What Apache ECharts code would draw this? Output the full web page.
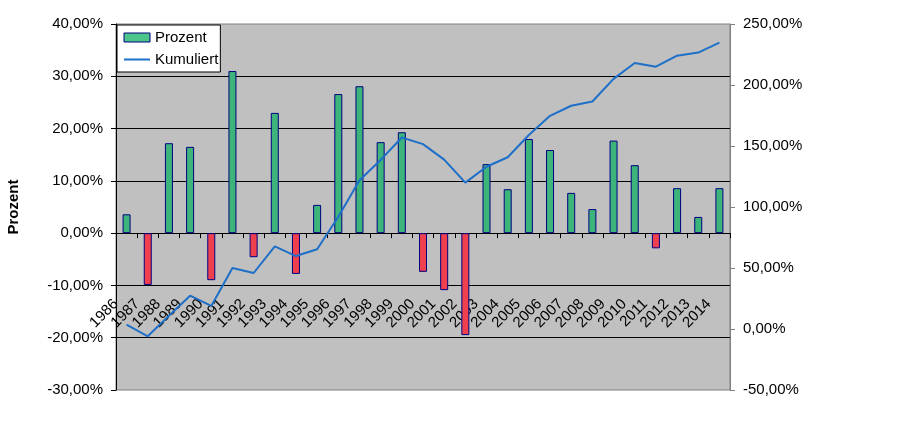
<!DOCTYPE html>
<html>
<head>
<meta charset="utf-8">
<script src="https://cdn.jsdelivr.net/npm/echarts@6/dist/echarts.min.js"></script>
<style>html,body{margin:0;padding:0;background:#fff;}#c{width:910px;height:441px;}</style>
</head>
<body>
<div id="c"></div>
<script>
const years = ['1986','1987','1988','1989','1990','1991','1992','1993','1994','1995','1996','1997','1998','1999','2000','2001','2002','2003','2004','2005','2006','2007','2008','2009','2010','2011','2012','2013','2014'];
const prozent = [3.6,-9.9,17.2,16.5,-9.0,31.0,-4.6,23.0,-7.8,5.4,26.6,28.1,17.4,19.3,-7.4,-10.9,-19.5,13.2,8.4,18.0,15.9,7.7,4.6,17.7,13.0,-2.9,8.6,3.1,8.6];
const kumuliert = [3.5,-6.0,10.8,27.3,18.9,50.0,45.9,67.7,59.8,65.4,92.0,122.0,138.6,157.0,151.5,138.8,120.0,133.0,140.8,159.0,174.7,183.0,186.5,205.0,218.0,215.0,224.0,226.6,234.8];
const leftTicks = {min: -30, max: 40, interval: 10};
const rightTicks = {min: -50, max: 250, interval: 50};

const FONT = "'Liberation Sans', Arial, sans-serif";
const GREEN = '#3DB47A', RED = '#F0404E', NAVY = '#000080', BLUE = '#1E6FC8';
const fmt = v => v.toFixed(2).replace('.', ',') + '%';

const chart = echarts.init(document.getElementById('c'), null, {renderer: 'canvas'});
chart.setOption({
  animation: false,
  backgroundColor: '#fff',
  textStyle: {fontFamily: FONT},
  grid: {left: 116, right: 180, top: 24, bottom: 51, show: true, backgroundColor: '#C0C0C0', borderColor: '#808080', borderWidth: 1, containLabel: false, outerBoundsMode: 'none'},
  legend: {
    orient: 'vertical', left: 117, top: 25,
    backgroundColor: '#fff', borderColor: '#000', borderWidth: 1,
    padding: [5, 2, 5, 6], itemGap: 7, itemWidth: 26, itemHeight: 9,
    textStyle: {fontFamily: FONT, fontSize: 15, color: '#000'},
    data: [
      {name: 'Prozent', icon: 'rect', itemStyle: {color: '#4CC48A', borderColor: NAVY, borderWidth: 1}},
      {name: 'Kumuliert', itemStyle: {opacity: 0}, lineStyle: {color: BLUE, width: 2, opacity: 1}}
    ]
  },
  xAxis: {
    type: 'category', data: years,
    axisLine: {onZero: true, lineStyle: {color: '#000', width: 1}},
    axisTick: {show: true, length: 5, lineStyle: {color: '#000'}},
    axisLabel: {rotate: 45, interval: 0, margin: -99, padding: [0, 15, 0, 0], fontFamily: FONT, fontSize: 15, color: '#000'},
    splitLine: {show: false}
  },
  yAxis: [
    {
      type: 'value', min: leftTicks.min, max: leftTicks.max, interval: leftTicks.interval,
      name: 'Prozent', nameLocation: 'middle', nameGap: 95, nameRotate: 90,
      nameTextStyle: {fontFamily: FONT, fontSize: 15, fontWeight: 'bold', color: '#000'},
      axisLine: {show: true, lineStyle: {color: '#000'}},
      axisTick: {show: true, length: 5, lineStyle: {color: '#000'}},
      axisLabel: {formatter: fmt, margin: 13, fontFamily: FONT, fontSize: 15, color: '#000'},
      splitLine: {show: true, showMinLine: false, showMaxLine: false, lineStyle: {color: '#000', width: 1}}
    },
    {
      type: 'value', min: rightTicks.min, max: rightTicks.max, interval: rightTicks.interval, position: 'right',
      axisLine: {show: true, lineStyle: {color: '#808080'}},
      axisTick: {show: true, length: 5, lineStyle: {color: '#808080'}},
      axisLabel: {formatter: fmt, margin: 13, fontFamily: FONT, fontSize: 15, color: '#000'},
      splitLine: {show: false}
    }
  ],
  series: [
    {
      name: 'Prozent', type: 'bar', yAxisIndex: 0, barWidth: 8,
      itemStyle: {color: GREEN, borderColor: NAVY, borderWidth: 1},
      data: prozent.map(v => v < 0 ? {value: v, itemStyle: {color: RED}} : v),
      z: 2
    },
    {
      name: 'Kumuliert', type: 'line', yAxisIndex: 1, symbol: 'none', smooth: false,
      lineStyle: {color: BLUE, width: 2}, itemStyle: {color: BLUE},
      data: kumuliert, z: 3
    }
  ]
});
</script>
</body>
</html>
